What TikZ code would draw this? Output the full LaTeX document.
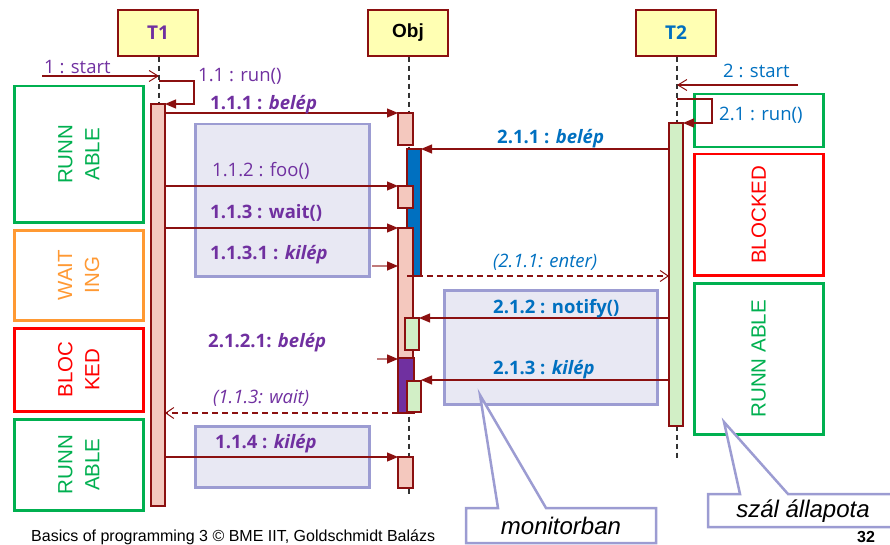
\documentclass[tikz,border=0pt]{standalone}
\usepackage{fontspec}
\setmainfont{Open Sans}
\newfontfamily\arialf{Liberation Sans}
\usetikzlibrary{arrows.meta}
\definecolor{dred}{HTML}{8B1010}
\definecolor{pinkf}{HTML}{F4C8BE}
\definecolor{greenf}{HTML}{D2EFC6}
\definecolor{lavf}{HTML}{E8E8F3}
\definecolor{lavd}{HTML}{9C9CD2}
\definecolor{ppl}{HTML}{7030A0}
\definecolor{blu}{HTML}{0070C0}
\definecolor{sgreen}{HTML}{00B050}
\definecolor{sorange}{HTML}{FF9933}
\definecolor{sred}{HTML}{FF0000}
\definecolor{headf}{HTML}{FFFFB3}
\definecolor{stubc}{HTML}{C07A7A}
\begin{document}
\begin{tikzpicture}[x=1pt,y=-1pt,
  head/.style={draw=dred,fill=headf,line width=1.2pt,minimum width=80pt,minimum height=46pt,inner sep=0pt,font=\bfseries\fontsize{19}{21}\selectfont},
  bar/.style={draw=dred,line width=1.3pt,inner sep=0pt,outer sep=0pt,anchor=north west},
  life/.style={draw=black!80,line width=1.2pt,dash pattern=on 5pt off 4pt},
  msg/.style={draw=dred,line width=1.2pt,-{Triangle[length=11pt,width=9pt]}},
  stub/.style={draw=stubc,line width=1.5pt,-{Triangle[length=11pt,width=9pt,fill=dred,color=dred]}},
  ret/.style={draw=dred,line width=1.2pt,dash pattern=on 6pt off 4pt,-{Straight Barb[length=8pt,width=11pt,line width=1pt]}},
  opn/.style={draw=dred,line width=1.2pt,-{Straight Barb[length=9pt,width=11pt,line width=1pt]}},
  monbox/.style={draw=lavd,fill=lavf,line width=2.5pt,inner sep=0pt,anchor=north west},
  statebox/.style={line width=2.5pt,inner sep=0pt,anchor=north west,fill=white},
  stext/.style={rotate=90,align=center,font=\arialf\fontsize{20.5}{27}\selectfont},
  lbl/.style={inner sep=0pt,font=\fontsize{18.5}{20}\selectfont},
  lblb/.style={inner sep=0pt,font=\bfseries\fontsize{18.5}{20}\selectfont},
  callout/.style={draw=lavd,fill=white,line width=2.5pt,line join=miter}
]
\useasboundingbox (0,0) rectangle (890,545);

% state boxes left
\node[statebox,draw=sgreen,minimum width=129pt,minimum height=136pt] (s1) at (13,85) {};
\node[statebox,draw=sorange,minimum width=129pt,minimum height=90pt] (s2) at (13,229) {};
\node[statebox,draw=sred,minimum width=129pt,minimum height=83pt] (s3) at (13,327) {};
\node[statebox,draw=sgreen,minimum width=129pt,minimum height=91pt] (s4) at (13,418) {};
\node[stext,text=sgreen] (s1t) at (s1.center) {RUNN\\ABLE};
\node[stext,text=sorange] (s2t) at (s2.center) {WAIT\\ING};
\node[stext,text=sred] (s3t) at (s3.center) {BLOC\\KED};
\node[stext,text=sgreen] (s4t) at (s4.center) {RUNN\\ABLE};

% state boxes right
\node[statebox,draw=sgreen,minimum width=129pt,minimum height=53pt] (r1) at (693,93) {};
\node[statebox,draw=sred,minimum width=129pt,minimum height=121pt] (r2) at (693,153) {};
\node[statebox,draw=sgreen,minimum width=129pt,minimum height=151pt] (r3) at (693,282) {};
\node[stext,text=sred] (r2t) at (r2.center) {BLOCKED};
\node[stext,text=sgreen] (r3t) at (r3.center) {RUNN ABLE};

% monitor boxes
\node[monbox,minimum width=174pt,minimum height=152pt] (mb1) at (194,123) {};
\node[monbox,minimum width=174pt,minimum height=61pt] (mb2) at (194,425) {};
\node[monbox,minimum width=213pt,minimum height=114pt] (mb3) at (443,289) {};

% heads
\node[head,text=ppl] (t1) at (158,33) {T1};
\node[head,text=black,font=\arialf\bfseries\fontsize{19}{21}\selectfont] (obj) at (408,33) {Obj};
\node[head,text=blu] (t2) at (676,33) {T2};

% lifelines
\coordinate (t1end) at (159,104);
\coordinate (objend) at (409,495);
\coordinate (t2end) at (677,460);
\draw[life] (t1.south -| t1end) -- (t1end);
\draw[life] (obj.south -| objend) -- (objend);
\draw[life] (t2.south -| t2end) -- (t2end);

% activation bars
\node[bar,fill=pinkf,minimum width=14pt,minimum height=402pt] (t1bar) at (151,104) {};
\node[bar,fill=greenf,minimum width=14pt,minimum height=303pt] (t2bar) at (669,123) {};
\node[bar,fill=pinkf,minimum width=15pt,minimum height=32pt] (oa1) at (398,113) {};
\node[bar,fill=blu,minimum width=14pt,minimum height=127pt] (ob) at (407,149) {};
\node[bar,fill=pinkf,minimum width=15pt,minimum height=22pt] (oa2) at (398,186) {};
\node[bar,fill=pinkf,minimum width=15pt,minimum height=185pt] (oa3) at (398,228) {};
\node[bar,fill=ppl,minimum width=16pt,minimum height=55pt] (op) at (398,358) {};
\node[bar,fill=greenf,minimum width=14pt,minimum height=32pt] (og1) at (405,318) {};
\node[bar,fill=greenf,minimum width=14pt,minimum height=31pt] (og2) at (407,381) {};
\node[bar,fill=pinkf,minimum width=15pt,minimum height=31pt] (oa4) at (398,457) {};

% start messages and self calls
\coordinate (st1) at (42,76);
\coordinate (st2) at (798,85);
\draw[opn] (st1) -- (st1 -| t1end);
\draw[opn] (st2) -- (st2 -| t2end);
\draw[msg] (t1end |- 0,81) -- (194,81) -- (194,104) -- (t1bar.north east);
\draw[msg] (t2end |- 0,99) -- (712,99) -- (712,123) -- (t2bar.north east);

% messages
\draw[msg] (t1bar.east |- oa1.north) -- (oa1.north west);
\draw[msg] (t2bar.west |- ob.north) -- (ob.north east);
\draw[msg] (t1bar.east |- oa2.north) -- (oa2.north west);
\draw[msg] (t1bar.east |- oa3.north) -- (oa3.north west);
\coordinate (stub1) at (372,266);
\draw[stub] (stub1) -- (stub1 -| oa3.west);
\draw[ret] (ob.south west) -- (ob.south west -| t2bar.west);
\draw[msg] (t2bar.west |- og1.north) -- (og1.north east);
\coordinate (stub2) at (377,359);
\draw[stub] (stub2) -- (stub2 -| op.west);
\draw[msg] (t2bar.west |- 0,380) -- (og2.east |- 0,380);
\draw[ret] (op.south west) -- (op.south west -| t1bar.east);
\draw[msg] (t1bar.east |- oa4.north) -- (oa4.north west);

% labels
\node[lbl,text=ppl,anchor=west] (l1) at (44,67) {1 : start};
\node[lbl,text=ppl,anchor=west] (l11) at (198,76) {1.1 : run()};
\node[lblb,text=ppl,anchor=west] (l111) at (210,105) {1.1.1 : \textit{belép}};
\node[lbl,text=ppl,anchor=west] (l112) at (212,171) {1.1.2 : foo()};
\node[lblb,text=ppl,anchor=west] (l113) at (210,213) {1.1.3 : wait()};
\node[lblb,text=ppl,anchor=west] (l1131) at (210,255) {1.1.3.1 : \textit{kilép}};
\node[lblb,text=ppl,anchor=west] (l2121) at (208,343) {2.1.2.1: \textit{belép}};
\node[lbl,text=ppl,anchor=west,font=\itshape\fontsize{18.5}{20}\selectfont] (lw) at (213,398) {(1.1.3: wait)};
\node[lblb,text=ppl,anchor=west] (l114) at (215,444) {1.1.4 : \textit{kilép}};
\node[lbl,text=blu,anchor=west] (l2) at (723,71) {2 : start};
\node[lbl,text=blu,anchor=west] (l21) at (719,115) {2.1 : run()};
\node[lblb,text=blu,anchor=west] (l211) at (497,139) {2.1.1 : \textit{belép}};
\node[lbl,text=blu,anchor=west,font=\itshape\fontsize{18.5}{20}\selectfont] (le) at (493,262) {(2.1.1: enter)};
\node[lblb,text=blu,anchor=west] (l212) at (493,309) {2.1.2 : notify()};
\node[lblb,text=blu,anchor=west] (l213) at (493,370) {2.1.3 : \textit{kilép}};

% callouts
\draw[callout] (466,508) -- (498,508) -- (480,395) -- (546,508) -- (656,508) -- (656,543) -- (466,543) -- cycle;
\node[inner sep=0pt,font=\arialf\itshape\fontsize{24}{26}\selectfont] (cm) at (561,526) {monitorban};
\draw[callout] (708,494) -- (740,494) -- (724,422) -- (788,494) -- (896,494) -- (896,527) -- (708,527) -- cycle;
\node[inner sep=0pt,font=\arialf\itshape\fontsize{24}{26}\selectfont] (cs) at (803,511) {szál állapota};

% footer
\node[inner sep=0pt,anchor=west,font=\arialf\fontsize{16}{18}\selectfont] (foot) at (31,537) {Basics of programming 3 © BME IIT, Goldschmidt Balázs};
\node[inner sep=0pt,font=\arialf\bfseries\fontsize{16}{18}\selectfont] (pg) at (866,537) {32};
\end{tikzpicture}
\end{document}
